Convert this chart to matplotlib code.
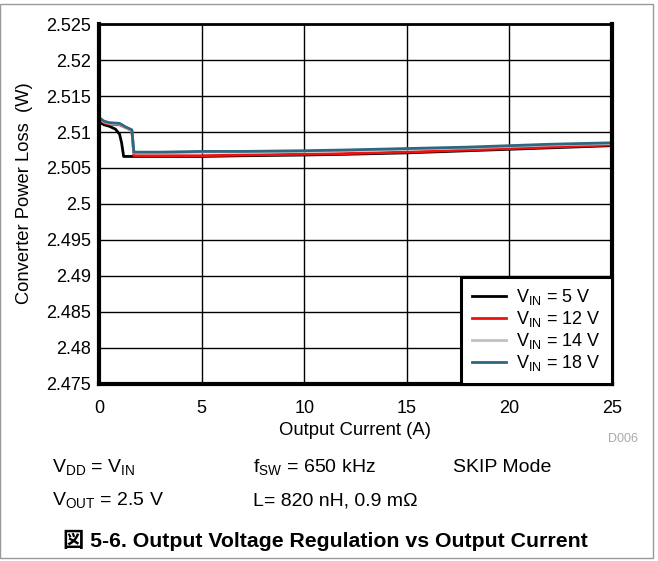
# Converter power loss vs output current, four input voltages
import matplotlib
matplotlib.use("Agg")
import matplotlib.pyplot as plt
from matplotlib.patches import Rectangle

plt.rcParams['font.family'] = ['Liberation Sans', 'Noto Sans CJK JP']
plt.rcParams['mathtext.fontset'] = 'custom'
plt.rcParams['mathtext.rm'] = 'Liberation Sans'
plt.rcParams['mathtext.it'] = 'Liberation Sans'

# data
x5  = [0, 0.25, 0.5, 0.8, 1.0, 1.1, 1.2, 2, 3, 5, 7, 10, 12, 15, 18, 20, 22, 25]
y5  = [2.5114, 2.5110, 2.5108, 2.5104, 2.5097, 2.5085, 2.5066, 2.5066, 2.5066,
       2.5066, 2.5067, 2.5068, 2.5069, 2.5071, 2.5074, 2.5076, 2.5078, 2.5081]
x12 = [0, 0.25, 0.5, 1.0, 1.3, 1.6, 1.7, 2, 3, 5, 7, 10, 12, 15, 18, 20, 22, 25]
y12 = [2.5118, 2.5113, 2.5111, 2.5110, 2.5106, 2.5102, 2.5067, 2.5067, 2.5067,
       2.5067, 2.5068, 2.5069, 2.5070, 2.5072, 2.5075, 2.5077, 2.5079, 2.5082]
x14 = [0, 0.25, 0.5, 1.0, 1.3, 1.6, 1.7, 2, 3, 5, 7, 10, 12, 15, 18, 20, 22, 25]
y14 = [2.5119, 2.5114, 2.5112, 2.5111, 2.5106, 2.5102, 2.5071, 2.5071, 2.5071,
       2.5072, 2.5072, 2.5073, 2.5074, 2.5076, 2.5078, 2.5080, 2.5082, 2.5084]
x18 = [0, 0.25, 0.5, 1.0, 1.3, 1.6, 1.7, 2, 3, 5, 7, 10, 12, 15, 18, 20, 22, 25]
y18 = [2.5120, 2.5115, 2.5113, 2.5112, 2.5107, 2.5103, 2.5072, 2.5072, 2.5072,
       2.5073, 2.5073, 2.5074, 2.5075, 2.5077, 2.5079, 2.5081, 2.5083, 2.5085]

labels = ["V$_{\\mathregular{IN}}$ = 5 V", "V$_{\\mathregular{IN}}$ = 12 V",
          "V$_{\\mathregular{IN}}$ = 14 V", "V$_{\\mathregular{IN}}$ = 18 V"]
colors = ["black", "#ee1111", "#c0c0c0", "#2f6680"]

yticks = [2.475, 2.48, 2.485, 2.49, 2.495, 2.5, 2.505, 2.51, 2.515, 2.52, 2.525]
ytlabels = ["2.475", "2.48", "2.485", "2.49", "2.495", "2.5", "2.505", "2.51",
            "2.515", "2.52", "2.525"]
xticks = [0, 5, 10, 15, 20, 25]

fig = plt.figure(figsize=(6.58, 5.61), dpi=100)
ax = fig.add_axes([0.1505, 0.316, 0.7795, 0.641])

for xs, ys, c, l in zip([x5, x12, x14, x18], [y5, y12, y14, y18], colors, labels):
    ax.plot(xs, ys, color=c, lw=2, label=l)

ax.set_xlim(0, 25)
ax.set_ylim(2.475, 2.525)
ax.set_xticks(xticks)
ax.set_yticks(yticks)
ax.set_yticklabels(ytlabels)
ax.grid(True, color="black", lw=1)
ax.tick_params(length=0, labelsize=13)
ax.tick_params(axis='y', pad=6)
ax.tick_params(axis='x', pad=12)
for s in ax.spines.values():
    s.set_linewidth(3)
ax.spines['top'].set_linewidth(2)
ax.set_xlabel("Output Current (A)", fontsize=13.3, labelpad=3)
ax.set_ylabel("Converter Power Loss  (W)", fontsize=13.2)
ax.yaxis.set_label_coords(-0.128, 0.53)

leg = ax.legend(loc="lower right", fontsize=13, frameon=True, fancybox=False,
                borderaxespad=0, handlelength=1.9, labelspacing=0.1,
                borderpad=0.6, handletextpad=0.55)
leg.get_frame().set_edgecolor("black")
leg.get_frame().set_linewidth(2.2)
leg.get_frame().set_alpha(1)

fig.text(0.970, 0.212, "D006", color="#aaaaaa", fontsize=9, ha="right")

fs = 14
fig.text(0.079, 0.1586, "V$_{\\mathregular{DD}}$ = V$_{\\mathregular{IN}}$", fontsize=fs)
fig.text(0.079, 0.0998, "V$_{\\mathregular{OUT}}$ = 2.5 V", fontsize=fs)
fig.text(0.384, 0.1586, "f$_{\\mathregular{SW}}$ = 650 kHz", fontsize=fs)
fig.text(0.384, 0.0998, "L= 820 nH, 0.9 mΩ", fontsize=fs)
fig.text(0.689, 0.1586, "SKIP Mode", fontsize=fs)
fig.text(0.095, 0.0245, "図 5-6. Output Voltage Regulation vs Output Current",
         fontsize=15.3, fontweight="bold")

fig.patches.append(Rectangle((0.0, 0.005), 0.993, 0.987, transform=fig.transFigure,
                             fill=False, edgecolor="#999999", lw=1))

fig.savefig("out.png", dpi=100)
